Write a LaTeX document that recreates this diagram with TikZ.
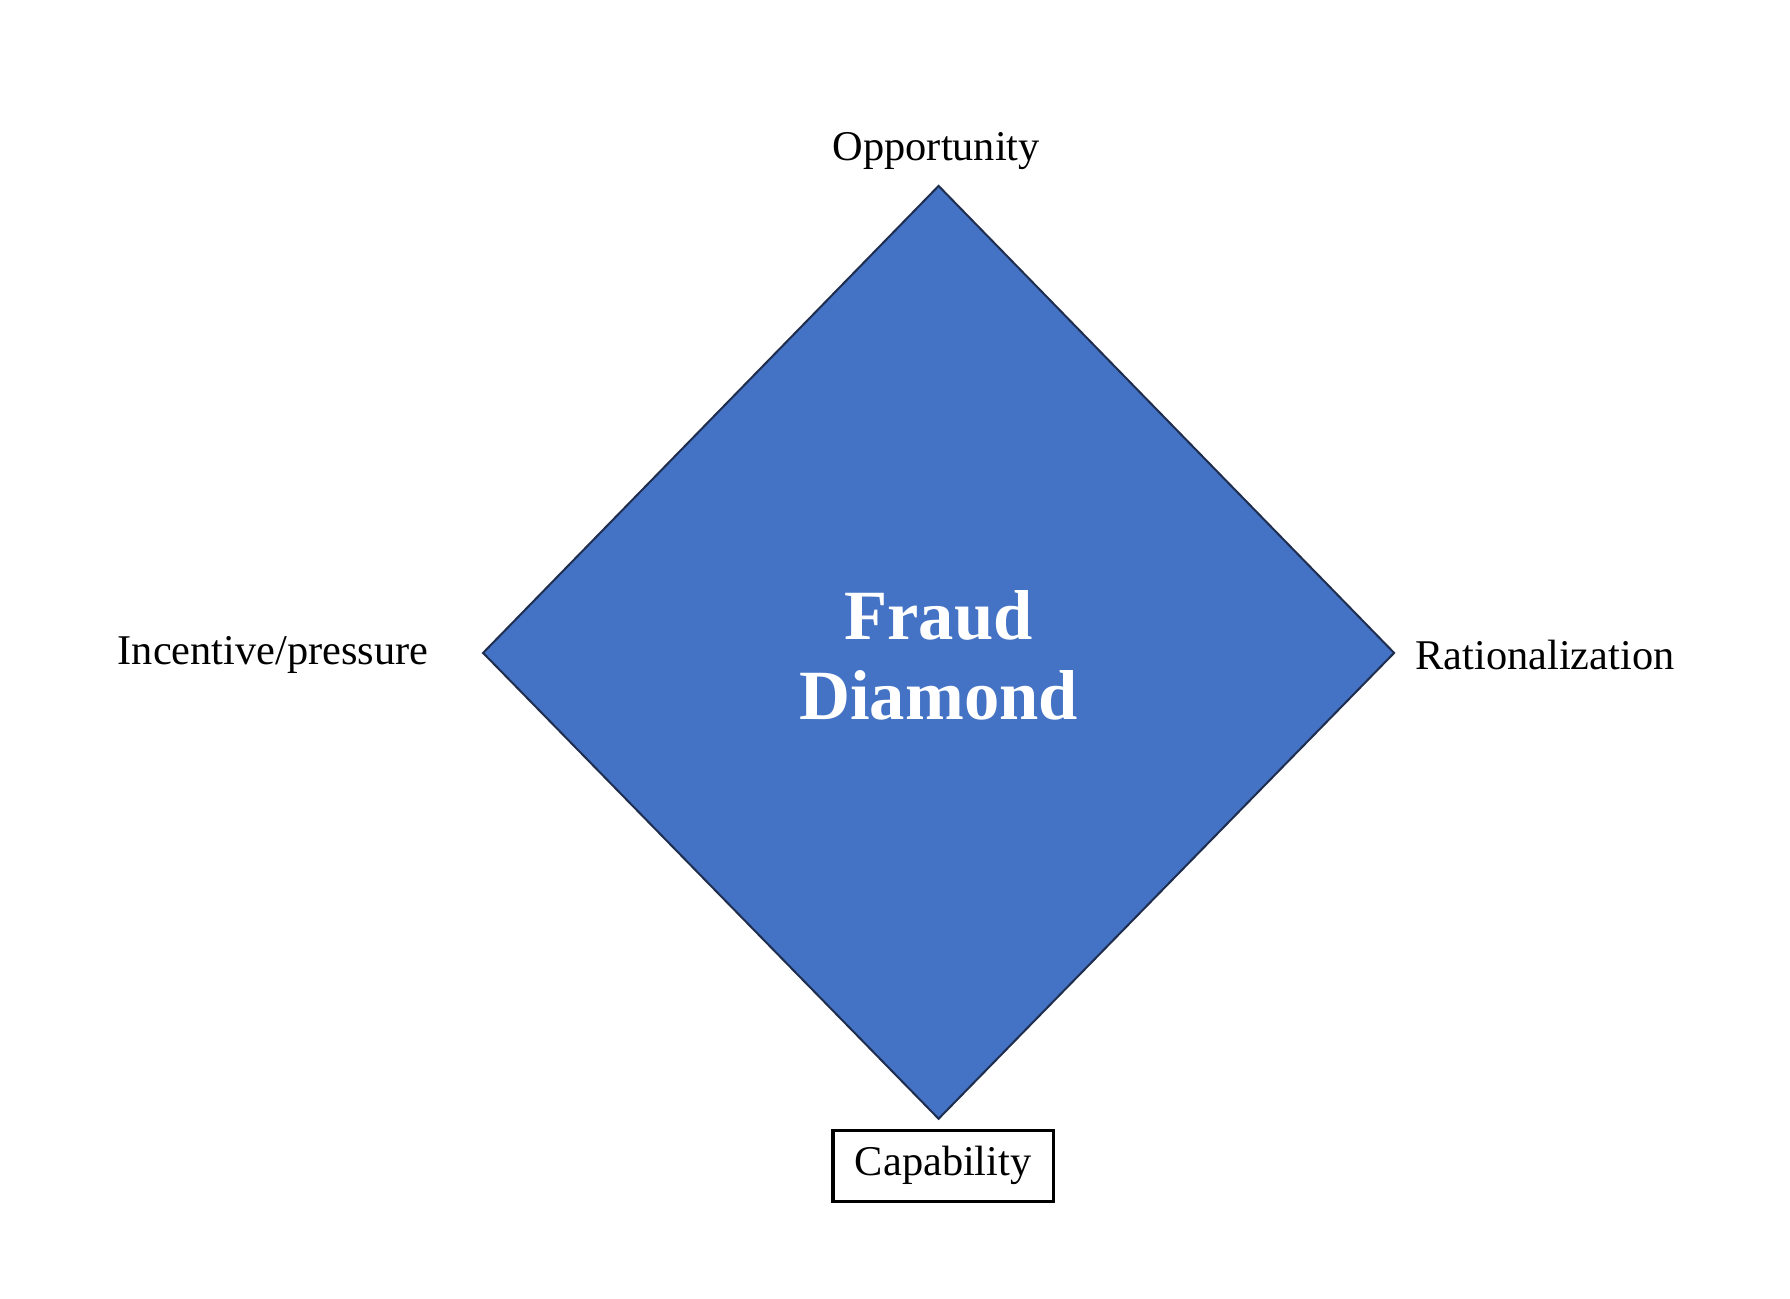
\documentclass[tikz,border=0pt]{standalone}
\usepackage{fontspec}
\setmainfont{Liberation Serif}
\definecolor{dblue}{HTML}{4472C4}
\definecolor{dedge}{HTML}{1F2E4F}
\begin{document}
\begin{tikzpicture}[x=0.01cm,y=-0.01cm,
  lbl/.style={font=\fontsize{10.5}{12}\selectfont, inner sep=0pt}]
\useasboundingbox (0,0) rectangle (1560,1132);
\coordinate (T) at (818,162);
\coordinate (L) at (421,569);
\coordinate (R) at (1215,569);
\coordinate (B) at (818,975);
\fill[dblue,draw=dedge,line width=0.5pt] (T) -- (R) -- (B) -- (L) -- cycle;
\node[font=\bfseries\fontsize{17.5}{20}\selectfont,text=white,align=center] (fd) at (818,571) {Fraud\\Diamond};
\node[lbl] (op) at (816,132) {Opportunity};
\node[lbl,anchor=east] (ip) at (374,571) {Incentive/pressure};
\node[lbl,anchor=west] (ra) at (1233,571) {Rationalization};
\node[lbl,draw,line width=0.8pt,minimum width=192*0.01cm,minimum height=62*0.01cm] (ca) at (822,1016) {Capability};
\end{tikzpicture}
\end{document}
